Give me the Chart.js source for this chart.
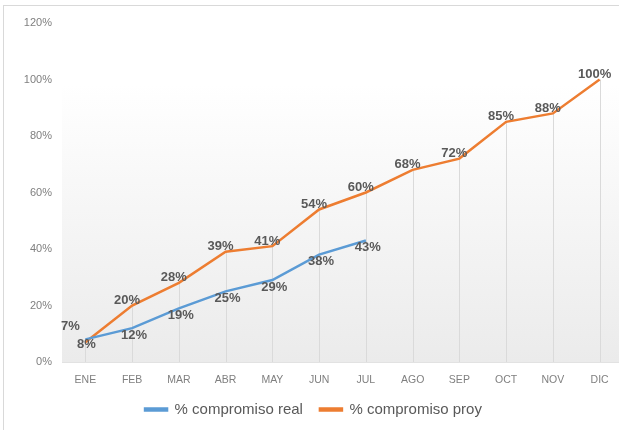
<!DOCTYPE html>
<html>
<head>
<meta charset="utf-8">
<script src="https://cdn.jsdelivr.net/npm/chart.js@4/dist/chart.umd.min.js"></script>
<style>
  html, body { margin: 0; padding: 0; background: #fff; overflow: hidden; }
  body { width: 619px; height: 430px; position: relative; }
  #frame {
    position: absolute; left: 3px; top: 5px;
    width: 619px; height: 425px;
    border-left: 1px solid #d9d9d9; border-top: 1px solid #d9d9d9;
  }
  #frame canvas { display: block; }
</style>
</head>
<body>
<div id="frame"><canvas id="compromisoChart"></canvas></div>
<script>
const months = ["ENE", "FEB", "MAR", "ABR", "MAY", "JUN", "JUL", "AGO", "SEP", "OCT", "NOV", "DIC"];
const compromisoReal = [8, 12, 19, 25, 29, 38, 43];
const compromisoProy = [7, 20, 28, 39, 41, 54, 60, 68, 72, 85, 88, 100];
const yTicks = [0, 20, 40, 60, 80, 100, 120];

const FONT = "'Liberation Sans', Arial, sans-serif";

// label placement (text centre relative to the point), per dataset,
// the first month is nudged apart because both series start together
const labelOffset = [[2, 7], [-5, -5]];
const firstLabelOffset = [[1, 5], [-15, -16]];

// soft grey gradient behind the plot, like the office chart
const plotBackground = {
  id: "plotBackground",
  beforeDraw(chart) {
    const { ctx, chartArea: a } = chart;
    const g = ctx.createLinearGradient(0, a.top, 0, a.bottom);
    g.addColorStop(0, "#ffffff");
    g.addColorStop(0.18, "#ffffff");
    g.addColorStop(1, "#ebebeb");
    ctx.save();
    ctx.fillStyle = g;
    ctx.fillRect(a.left, a.top, a.right - a.left, a.bottom - a.top);
    ctx.restore();
  },
};

// excel style drop lines: from the highest point of each month down to the axis
const dropLines = {
  id: "dropLines",
  beforeDatasetsDraw(chart) {
    const { ctx, chartArea: a } = chart;
    ctx.save();
    ctx.strokeStyle = "#dadada";
    ctx.lineWidth = 1;
    chart.data.labels.forEach((_, j) => {
      let top = null;
      let x = null;
      chart.data.datasets.forEach((ds, i) => {
        const pt = chart.getDatasetMeta(i).data[j];
        if (!pt || ds.data[j] == null) return;
        x = pt.x;
        top = top === null ? pt.y : Math.min(top, pt.y);
      });
      if (top === null) return;
      const px = Math.round(x) + 0.5;
      ctx.beginPath();
      ctx.moveTo(px, top);
      ctx.lineTo(px, a.bottom);
      ctx.stroke();
    });
    ctx.restore();
  },
};

// percentage labels next to every point
const pointLabels = {
  id: "pointLabels",
  afterDatasetsDraw(chart) {
    const { ctx } = chart;
    ctx.save();
    ctx.font = "bold 13px " + FONT;
    ctx.fillStyle = "#595959";
    ctx.textAlign = "center";
    ctx.textBaseline = "middle";
    chart.data.datasets.forEach((ds, i) => {
      const meta = chart.getDatasetMeta(i);
      meta.data.forEach((pt, j) => {
        const o = j === 0 ? firstLabelOffset[i] : labelOffset[i];
        ctx.fillText(ds.data[j] + "%", pt.x + o[0], pt.y + o[1]);
      });
    });
    ctx.restore();
  },
};

const canvas = document.getElementById("compromisoChart");
canvas.width = 619;
canvas.height = 425;

new Chart(canvas, {
  type: "line",
  data: {
    labels: months,
    datasets: [
      {
        label: "% compromiso real",
        data: compromisoReal,
        borderColor: "#5b9bd5",
        backgroundColor: "#5b9bd5",
        borderWidth: 2.5,
        pointRadius: 0,
        tension: 0,
      },
      {
        label: "% compromiso proy",
        data: compromisoProy,
        borderColor: "#ed7d31",
        backgroundColor: "#ed7d31",
        borderWidth: 2.5,
        pointRadius: 0,
        tension: 0,
      },
    ],
  },
  options: {
    responsive: false,
    animation: false,
    devicePixelRatio: 1,
    layout: { padding: { top: 17, right: 0, left: 0, bottom: 4 } },
    plugins: {
      tooltip: { enabled: false },
      legend: {
        position: "bottom",
        labels: {
          color: "#595959",
          font: { family: FONT, size: 15 },
          boxWidth: 22,
          boxHeight: 2,
          padding: 17,
        },
      },
    },
    scales: {
      x: {
        offset: true,
        afterFit(scale) {
          scale.height = 23;
        },
        grid: { display: false, drawTicks: false },
        border: { color: "#e2e2e2" },
        ticks: {
          color: "#7f7f7f",
          font: { family: FONT, size: 10.5 },
          padding: 12,
          maxRotation: 0,
        },
      },
      y: {
        min: 0,
        max: 120,
        afterBuildTicks(scale) {
          scale.ticks = yTicks.map((v) => ({ value: v }));
        },
        afterFit(scale) {
          scale.width = 58;
        },
        grid: { display: false, drawTicks: false },
        border: { display: false },
        ticks: {
          color: "#7f7f7f",
          font: { family: FONT, size: 11 },
          padding: 10,
          callback: (v) => v + "%",
        },
      },
    },
  },
  plugins: [plotBackground, dropLines, pointLabels],
});
</script>
</body>
</html>
